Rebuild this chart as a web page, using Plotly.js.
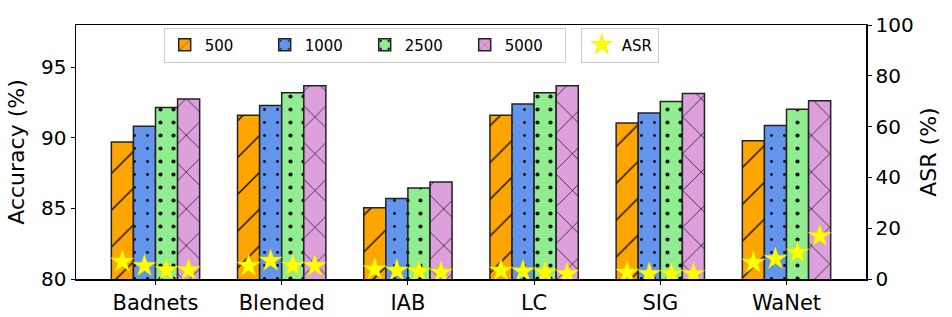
<!DOCTYPE html>
<html>
<head>
<meta charset="utf-8">
<script src="https://cdn.plot.ly/plotly-3.0.1.min.js"></script>
<style>html,body{margin:0;padding:0;background:#fff}#chart{width:952px;height:317px}</style>
</head>
<body>
<div id="chart"></div>
<script>
const categories = ["Badnets", "Blended", "IAB", "LC", "SIG", "WaNet"];
const sizes = ["500", "1000", "2500", "5000"];
const acc500  = [89.7, 91.6, 85.05, 91.6, 91.06, 89.8];
const acc1000 = [90.83, 92.3, 85.7, 92.4, 91.77, 90.87];
const acc2500 = [92.15, 93.2, 86.45, 93.2, 92.57, 92.03];
const acc5000 = [92.75, 93.7, 86.87, 93.7, 93.14, 92.64];
const asr500  = [6.8, 5.2, 3.8, 3.3, 2.5, 6.4];
const asr1000 = [5.1, 7.2, 3.3, 3.0, 2.0, 7.9];
const asr2500 = [3.5, 5.2, 2.9, 2.5, 2.0, 10.4];
const asr5000 = [3.5, 5.1, 2.5, 2.0, 2.0, 16.9];

const accs = [acc500, acc1000, acc2500, acc5000];
const asrs = [asr500, asr1000, asr2500, asr5000];
const colors = ["#FFA500", "#6495ED", "#90EE90", "#DDA0DD"];
const shapes = ["/", ".", ".", "x"];
const psizes = [26, 13, 13, 26];
const solid = [0.055, 0.04, 0.08, 0.055];

const bargap = 0.3;
const barW = (1 - bargap) / sizes.length;
const xr = [-0.63, categories.length - 1 + 0.63];

const traces = [];
sizes.forEach((s, j) => {
  traces.push({
    type: "bar", name: s, x: categories, y: accs[j],
    marker: {color: colors[j], line: {color: "#222", width: 1.5},
      pattern: {shape: shapes[j], fgcolor: "#111", bgcolor: colors[j], fillmode: "replace", fgopacity: 1,
        size: psizes[j], solidity: solid[j]}},
    legend: "legend", xaxis: "x", yaxis: "y"
  });
});
sizes.forEach((s, j) => {
  traces.push({
    type: "scatter", mode: "markers", name: "ASR",
    x: categories.map((c, i) => i + (j - (sizes.length - 1) / 2) * barW),
    y: asrs[j], xaxis: "x2", yaxis: "y2",
    marker: {symbol: "star", size: 17, color: "#FFFF00", line: {color: "#e0e000", width: 0.5}},
    showlegend: j === 0, legend: "legend2"
  });
});

const font = {family: "DejaVu Sans", color: "#000"};
const layout = {
  width: 952, height: 317,
  margin: {l: 76, r: 86, t: 25, b: 38},
  paper_bgcolor: "#fff", plot_bgcolor: "#fff",
  font: Object.assign({size: 20}, font),
  barmode: "group", bargap: bargap, bargroupgap: 0,
  xaxis: {type: "category", range: xr, showline: true, linecolor: "#000", linewidth: 1.5, mirror: true,
    ticks: "outside", ticklen: 4, tickcolor: "#000", showgrid: false, zeroline: false,
    tickfont: {size: 21}},
  xaxis2: {overlaying: "x", range: xr, visible: false, showgrid: false, zeroline: false},
  yaxis: {range: [80, 98], tickvals: [80, 85, 90, 95], showline: true, linecolor: "#000", linewidth: 1.5,
    ticks: "outside", ticklen: 4, tickcolor: "#000", showgrid: false, zeroline: false,
    title: {text: "Accuracy (%)", font: {size: 22}, standoff: 10}, tickfont: {size: 20}},
  yaxis2: {overlaying: "y", side: "right", range: [0, 100], tickvals: [0, 20, 40, 60, 80, 100],
    showline: true, linecolor: "#000", linewidth: 1.5, ticks: "outside", ticklen: 4, tickcolor: "#000",
    showgrid: false, zeroline: false,
    title: {text: "ASR (%)", font: {size: 22}, standoff: 8}, tickfont: {size: 20}},
  legend: {orientation: "h", x: 0.111, y: 0.99, xanchor: "left", yanchor: "top",
    bgcolor: "rgba(255,255,255,0.8)", bordercolor: "#ccc", borderwidth: 1,
    font: {size: 15}, entrywidth: 55, entrywidthmode: "pixels"},
  legend2: {orientation: "h", x: 0.639, y: 0.99, xanchor: "left", yanchor: "top",
    bgcolor: "rgba(255,255,255,0.8)", bordercolor: "#ccc", borderwidth: 1,
    font: {size: 15}}
};
Plotly.newPlot("chart", traces, layout, {displayModeBar: false, staticPlot: true});
</script>
</body>
</html>
